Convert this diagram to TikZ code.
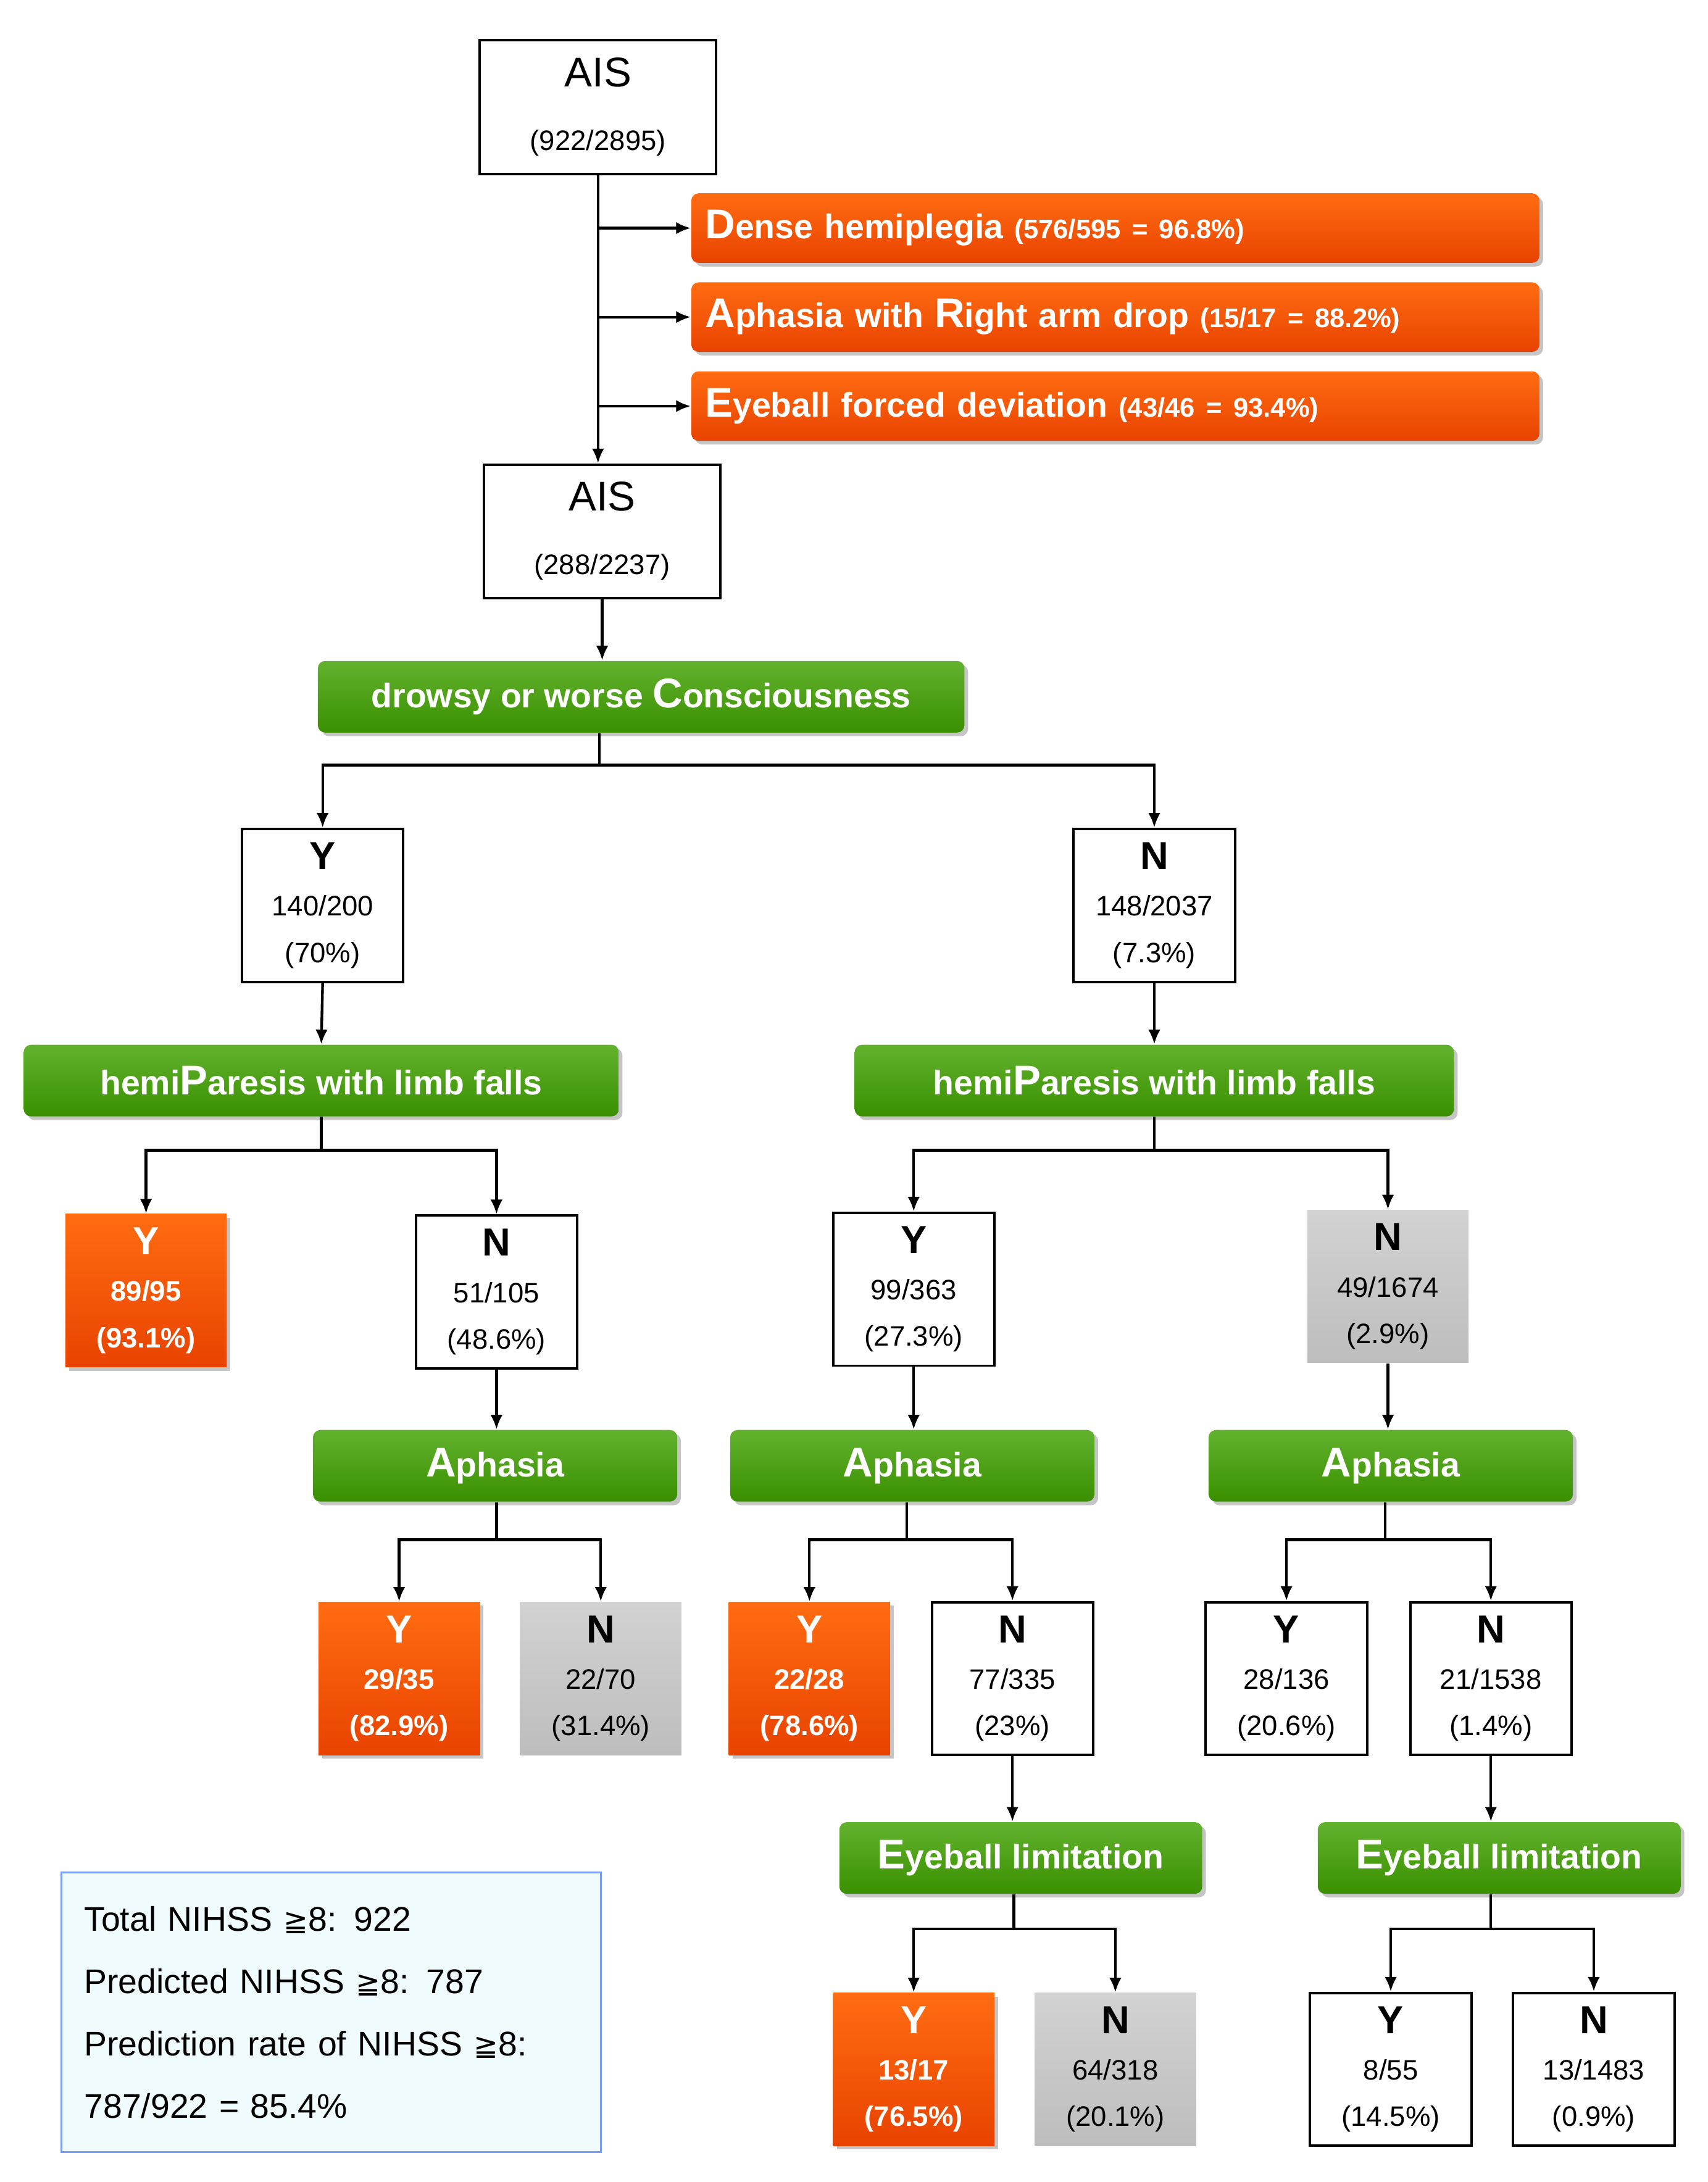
\documentclass[tikz,border=0pt]{standalone}
\usepackage{fontspec}
\setmainfont{Liberation Sans}
\newfontfamily\djv{DejaVu Sans}
\usetikzlibrary{shadows,arrows.meta}
\definecolor{orT}{HTML}{FF6C12}\definecolor{orB}{HTML}{E84300}
\definecolor{grT}{HTML}{62B22E}\definecolor{grB}{HTML}{3A9000}
\definecolor{gyT}{HTML}{D2D2D2}\definecolor{gyB}{HTML}{BDBDBD}
\definecolor{lgB}{HTML}{F0FBFD}\definecolor{lgE}{HTML}{7A9EF0}
\begin{document}
\begin{tikzpicture}[x=0.02cm,y=-0.02cm,
  shd/.style={drop shadow={shadow xshift=1.5pt,shadow yshift=-1.5pt,fill=black!45,opacity=.5}},
  arr/.style={-{Latex[length=6pt,width=5pt]},line width=1.1pt},
  ln/.style={line width=1.1pt},
  ais/.style={draw,line width=1pt,minimum width=3.4cm,minimum height=1.92cm,align=center,inner sep=0pt,font=\fontsize{17}{28}\selectfont},
  orb/.style={shd,rounded corners=3pt,top color=orT,bottom color=orB,minimum width=12.2cm,minimum height=1cm,text width=11.8cm,align=left,text=white,font=\bfseries\fontsize{14}{16}\selectfont,inner sep=0pt},
  grb/.style={shd,rounded corners=3pt,top color=grT,bottom color=grB,minimum height=1.03cm,text=white,align=center,font=\bfseries\fontsize{14}{16}\selectfont,inner sep=0pt},
  bx/.style={minimum width=2.32cm,minimum height=2.2cm,align=center,inner sep=0pt,font=\fontsize{11.5}{19}\selectfont},
  wb/.style={bx,draw,line width=1pt},
  ob/.style={bx,shd,top color=orT,bottom color=orB,text=white,font=\bfseries\fontsize{11.5}{19}\selectfont},
  gb/.style={bx,top color=gyT,bottom color=gyB}]
\useasboundingbox (0,0) rectangle (1228,1569);
\newcommand{\BL}[1]{{\fontsize{17}{17}\selectfont #1}}
\newcommand{\SM}[1]{{\fontsize{11}{12}\selectfont #1}}
\newcommand{\YN}[1]{{\fontsize{16}{20}\selectfont\bfseries #1}}
% top
\node[ais] (a1) at (430,77) {AIS\\[-2pt]{\fontsize{11.5}{14}\selectfont(922/2895)}};
\node[orb] (o1) at (802,164) {\BL{D}ense hemiplegia \SM{(576/595 = 96.8\%)}};
\node[orb] (o2) at (802,228) {\BL{A}phasia with \BL{R}ight arm drop \SM{(15/17 = 88.2\%)}};
\node[orb] (o3) at (802,292) {\BL{E}yeball forced deviation \SM{(43/46 = 93.4\%)}};
\node[ais] (a2) at (433,382) {AIS\\[-2pt]{\fontsize{11.5}{14}\selectfont(288/2237)}};
\draw[arr] (a1.south) -- (a1.south |- a2.north);
\foreach \o in {o1,o2,o3} \draw[arr] (a1.south |- \o.west) -- (\o.west);
\node[grb,minimum width=9.3cm] (g1) at (461,501) {drowsy or worse \BL{C}onsciousness};
\draw[arr] (a2.south) -- (a2.south |- g1.north);
% level 2
\node[wb] (y1) at (232,651) {\YN{Y}\\140/200\\(70\%)};
\node[wb] (n1) at (830,651) {\YN{N}\\148/2037\\(7.3\%)};
\draw[arr] (g1.south -| 431,0) -- ++(0,23) -| (y1.north);
\draw[arr] (g1.south -| 431,0) -- ++(0,23) -| (n1.north);
\node[grb,minimum width=8.56cm] (g2a) at (231,777) {hemi\BL{P}aresis with limb falls};
\node[grb,minimum width=8.62cm] (g2b) at (830,777) {hemi\BL{P}aresis with limb falls};
\draw[arr] (y1.south) -- (g2a.north);
\draw[arr] (n1.south) -- (g2b.north);
% level 3
\node[ob] (r1) at (105,928) {\YN{Y}\\89/95\\(93.1\%)};
\node[wb] (r2) at (357,929) {\YN{N}\\51/105\\(48.6\%)};
\node[wb] (r3) at (657,927) {\YN{Y}\\99/363\\(27.3\%)};
\node[gb] (r4) at (998,925) {\YN{N}\\49/1674\\(2.9\%)};
\draw[arr] (g2a.south) -- ++(0,24) -| (r1.north);
\draw[arr] (g2a.south) -- ++(0,24) -| (r2.north);
\draw[arr] (g2b.south) -- ++(0,24) -| (r3.north);
\draw[arr] (g2b.south) -- ++(0,24) -| (r4.north);
\node[grb,minimum width=5.24cm] (h1) at (356,1054) {\BL{A}phasia};
\node[grb,minimum width=5.24cm] (h2) at (656,1054) {\BL{A}phasia};
\node[grb,minimum width=5.24cm] (h3) at (1000,1054) {\BL{A}phasia};
\draw[arr] (r2.south) -- (r2.south |- h1.north);
\draw[arr] (r3.south) -- (r3.south |- h2.north);
\draw[arr] (r4.south) -- (r4.south |- h3.north);
% level 4
\node[ob] (s1) at (287,1207) {\YN{Y}\\29/35\\(82.9\%)};
\node[gb] (s2) at (432,1207) {\YN{N}\\22/70\\(31.4\%)};
\node[ob] (s3) at (582,1207) {\YN{Y}\\22/28\\(78.6\%)};
\node[wb] (s4) at (728,1207) {\YN{N}\\77/335\\(23\%)};
\node[wb] (s5) at (925,1207) {\YN{Y}\\28/136\\(20.6\%)};
\node[wb] (s6) at (1072,1207) {\YN{N}\\21/1538\\(1.4\%)};
\draw[arr] (h1.south -| 357,0) -- ++(0,27) -| (s1.north);
\draw[arr] (h1.south -| 357,0) -- ++(0,27) -| (s2.north);
\draw[arr] (h2.south -| 652,0) -- ++(0,27) -| (s3.north);
\draw[arr] (h2.south -| 652,0) -- ++(0,27) -| (s4.north);
\draw[arr] (h3.south -| 996,0) -- ++(0,27) -| (s5.north);
\draw[arr] (h3.south -| 996,0) -- ++(0,27) -| (s6.north);
\node[grb,minimum width=5.22cm] (e1) at (734,1336) {\BL{E}yeball limitation};
\node[grb,minimum width=5.22cm] (e2) at (1078,1336) {\BL{E}yeball limitation};
\draw[arr] (s4.south) -- (s4.south |- e1.north);
\draw[arr] (s6.south) -- (s6.south |- e2.north);
% level 5
\node[ob] (t1) at (657,1488) {\YN{Y}\\13/17\\(76.5\%)};
\node[gb] (t2) at (802,1488) {\YN{N}\\64/318\\(20.1\%)};
\node[wb] (t3) at (1000,1488) {\YN{Y}\\8/55\\(14.5\%)};
\node[wb] (t4) at (1146,1488) {\YN{N}\\13/1483\\(0.9\%)};
\draw[arr] (e1.south -| 729,0) -- ++(0,25) -| (t1.north);
\draw[arr] (e1.south -| 729,0) -- ++(0,25) -| (t2.north);
\draw[arr] (e2.south -| 1072,0) -- ++(0,25) -| (t3.north);
\draw[arr] (e2.south -| 1072,0) -- ++(0,25) -| (t4.north);
% legend
\node[draw=lgE,fill=lgB,line width=0.8pt,minimum width=7.76cm,minimum height=4.02cm,text width=7.1cm,align=left,inner sep=0pt,font=\fontsize{14}{25.5}\selectfont] (lg) at (238,1447)
{Total NIHSS {\djv\fontsize{12}{12}\selectfont ≧}8: 922\\Predicted NIHSS {\djv\fontsize{12}{12}\selectfont ≧}8: 787\\Prediction rate of NIHSS {\djv\fontsize{12}{12}\selectfont ≧}8:\\787/922 = 85.4\%};
\end{tikzpicture}
\end{document}
